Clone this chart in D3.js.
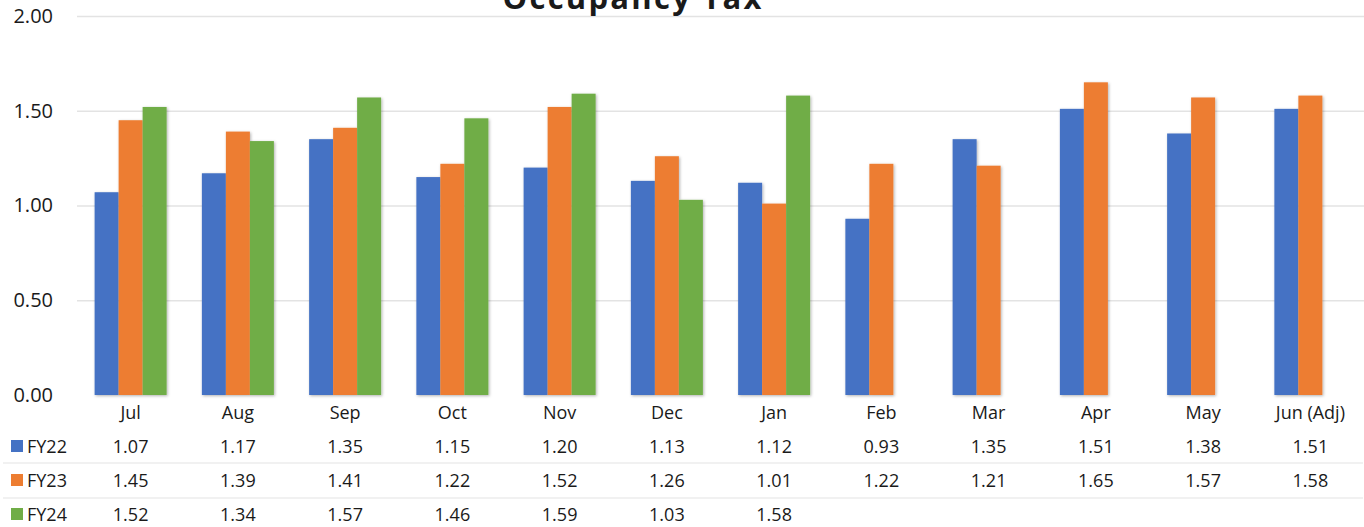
<!DOCTYPE html>
<html>
<head>
<meta charset="utf-8">
<script src="https://cdn.jsdelivr.net/npm/d3@7"></script>
<style>
  body { margin: 0; background: #fff; }
  svg text { font-family: "Open Sans", sans-serif; fill: #1a1a1a; }
</style>
</head>
<body>
<div id="chart"></div>
<script>
// chart values
var months = ["Jul", "Aug", "Sep", "Oct", "Nov", "Dec", "Jan", "Feb", "Mar", "Apr", "May", "Jun (Adj)"];
var seriesNames = ["FY22", "FY23", "FY24"];
var fy22 = [1.07, 1.17, 1.35, 1.15, 1.20, 1.13, 1.12, 0.93, 1.35, 1.51, 1.38, 1.51];
var fy23 = [1.45, 1.39, 1.41, 1.22, 1.52, 1.26, 1.01, 1.22, 1.21, 1.65, 1.57, 1.58];
var fy24 = [1.52, 1.34, 1.57, 1.46, 1.59, 1.03, 1.58, null, null, null, null, null];
var yTicks = [0, 0.5, 1, 1.5, 2];
var colors = ["#4472C4", "#ED7D31", "#70AD47"];

var svgWidth = 1364;
var svgHeight = 527;
var plot = { left: 77, right: 1364, top: 16, bottom: 395 };

var svg = d3.select("#chart")
  .append("svg")
  .attr("width", svgWidth)
  .attr("height", svgHeight);

// soft shadow under bars
var defs = svg.append("defs");
defs.append("filter")
  .attr("id", "shadow")
  .attr("x", "-20%").attr("y", "-5%")
  .attr("width", "140%").attr("height", "110%")
  .append("feDropShadow")
  .attr("dx", 1).attr("dy", 1)
  .attr("stdDeviation", 1.5)
  .attr("flood-color", "#000")
  .attr("flood-opacity", 0.3);

var seriesData = [fy22, fy23, fy24];

// scales
var x = d3.scaleBand()
  .domain(months)
  .range([plot.left, plot.right]);
var groupWidth = 72;
var xs = d3.scaleBand()
  .domain(seriesNames)
  .range([(x.bandwidth() - groupWidth) / 2, (x.bandwidth() + groupWidth) / 2]);
var y = d3.scaleLinear()
  .domain([0, 2])
  .range([plot.bottom, plot.top]);

// gridlines (no line at zero)
var grid = svg.append("g")
  .attr("transform", `translate(${plot.left},0)`)
  .call(d3.axisRight(y)
    .tickValues(yTicks.filter(d => d > 0))
    .tickSize(plot.right - plot.left)
    .tickFormat(""));
grid.select(".domain").remove();
grid.selectAll("line")
  .attr("stroke", "#e3e3e3")
  .attr("stroke-width", 1.5);

// y axis labels
var yAxis = svg.append("g")
  .attr("transform", "translate(53,0)")
  .call(d3.axisLeft(y)
    .tickValues(yTicks)
    .tickSize(0)
    .tickPadding(0)
    .tickFormat(d3.format(".2f")));
yAxis.select(".domain").remove();
yAxis.selectAll("text")
  .attr("font-size", 20)
  .attr("font-family", "Open Sans, sans-serif")
  .attr("fill", "#1a1a1a");

// bars
var barsGroup = svg.append("g").attr("filter", "url(#shadow)");
seriesNames.forEach(function(name, si) {
  var vals = months.map((m, i) => ({ month: m, value: seriesData[si][i] }))
    .filter(d => d.value != null);
  barsGroup.selectAll("rect.s" + si)
    .data(vals)
    .enter()
    .append("rect")
    .attr("class", "s" + si)
    .attr("x", d => x(d.month) + xs(name))
    .attr("width", xs.bandwidth())
    .attr("y", d => y(d.value))
    .attr("height", d => y(0) - y(d.value))
    .attr("fill", colors[si]);
});

// title (partly off the top edge)
svg.append("text")
  .attr("x", 632)
  .attr("y", 9)
  .attr("text-anchor", "middle")
  .attr("font-size", 31)
  .attr("font-weight", "bold")
  .attr("textLength", 259)
  .attr("lengthAdjust", "spacing")
  .text("Occupancy Tax");

// data table: category row
var table = svg.append("g");
table.selectAll("text.cat")
  .data(months)
  .enter()
  .append("text")
  .attr("class", "cat")
  .attr("x", d => x(d) + x.bandwidth() / 2)
  .attr("y", 419)
  .attr("text-anchor", "middle")
  .attr("font-size", 18)
  .text(d => d);

var rowY = [453, 487, 521];
var sepY = [463, 498];

table.selectAll("line.sep")
  .data(sepY)
  .enter()
  .append("line")
  .attr("class", "sep")
  .attr("x1", 3)
  .attr("x2", 1363)
  .attr("y1", d => d)
  .attr("y2", d => d)
  .attr("stroke", "#ececec")
  .attr("stroke-width", 1.5);

seriesNames.forEach(function(name, si) {
  var row = table.append("g");
  row.append("rect")
    .attr("x", 11)
    .attr("y", rowY[si] - 13)
    .attr("width", 12)
    .attr("height", 12)
    .attr("fill", colors[si]);
  row.append("text")
    .attr("x", 27)
    .attr("y", rowY[si])
    .attr("font-size", 18)
    .text(name);
  row.selectAll("text.val")
    .data(months.map((m, i) => ({ month: m, value: seriesData[si][i] })).filter(d => d.value != null))
    .enter()
    .append("text")
    .attr("class", "val")
    .attr("x", d => x(d.month) + x.bandwidth() / 2)
    .attr("y", rowY[si])
    .attr("text-anchor", "middle")
    .attr("font-size", 18)
    .text(d => d3.format(".2f")(d.value));
});
</script>
</body>
</html>
